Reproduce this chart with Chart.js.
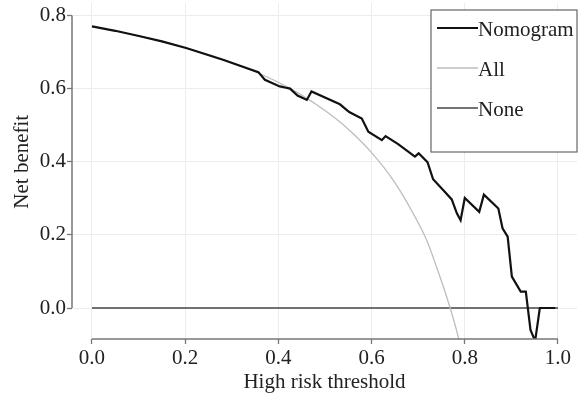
<!DOCTYPE html>
<html>
<head>
<meta charset="utf-8">
<script src="https://cdn.jsdelivr.net/npm/chart.js@4"></script>
<style>
  html, body { margin: 0; padding: 0; background: #fff; }
  #wrap { width: 582px; height: 398px; }
</style>
</head>
<body>
<div id="wrap"><canvas id="dca"></canvas></div>
<script>
// threshold ticks
const xTicks = [0, 0.2, 0.4, 0.6, 0.8, 1.0];
const yTicks = [0, 0.2, 0.4, 0.6, 0.8];

// Nomogram net benefit curve
const nomoX = [0, 0.05, 0.103, 0.15, 0.202, 0.281, 0.357, 0.371, 0.403, 0.414, 0.425, 0.441, 0.461,
  0.471, 0.532, 0.552, 0.579, 0.593, 0.622, 0.630, 0.657, 0.693, 0.701, 0.720, 0.732, 0.754,
  0.772, 0.783, 0.791, 0.800, 0.831, 0.841, 0.872, 0.881, 0.892, 0.901, 0.920, 0.931, 0.941,
  0.951, 0.961, 0.994];
const nomoY = [0.770, 0.758, 0.743, 0.729, 0.711, 0.679, 0.645, 0.624, 0.606, 0.603, 0.600, 0.581, 0.569,
  0.592, 0.557, 0.536, 0.518, 0.482, 0.459, 0.470, 0.448, 0.414, 0.423, 0.399, 0.352, 0.322,
  0.297, 0.259, 0.240, 0.301, 0.263, 0.310, 0.272, 0.218, 0.195, 0.086, 0.045, 0.045, -0.060,
  -0.090, 0.0, 0.0];

// Treat all
const allX = [0, 0.05, 0.1, 0.15, 0.2, 0.25, 0.3, 0.35, 0.4, 0.45, 0.5, 0.55, 0.6, 0.65, 0.7, 0.72, 0.74, 0.76, 0.78, 0.80];
const allY = [0.77, 0.758, 0.744, 0.729, 0.712, 0.693, 0.671, 0.646, 0.617, 0.582, 0.54, 0.489, 0.425, 0.343, 0.233, 0.18, 0.11, 0.035, -0.05, -0.15];

// Treat none
const noneX = [0, 1];
const noneY = [0, 0];

const serif = '"Liberation Serif", "Times New Roman", serif';

function pts(xs, ys) {
  return xs.map((x, i) => ({ x: x, y: ys[i] }));
}

const axesAndLegend = {
  id: 'axesAndLegend',
  afterDraw(chart) {
    const ctx = chart.ctx;
    const xs = chart.scales.x, ys = chart.scales.y;
    const area = chart.chartArea;
    ctx.save();
    // R style axis lines spanning first..last tick
    ctx.strokeStyle = '#777';
    ctx.lineWidth = 1.5;
    ctx.beginPath();
    ctx.moveTo(xs.getPixelForValue(xTicks[0]), area.bottom);
    ctx.lineTo(xs.getPixelForValue(xTicks[xTicks.length - 1]), area.bottom);
    ctx.moveTo(area.left, ys.getPixelForValue(yTicks[0]));
    ctx.lineTo(area.left, ys.getPixelForValue(yTicks[yTicks.length - 1]));
    ctx.stroke();

    // axis titles
    ctx.fillStyle = '#222';
    ctx.font = '21px ' + serif;
    ctx.textAlign = 'center';
    ctx.textBaseline = 'middle';
    ctx.fillText('High risk threshold', (area.left + area.right) / 2, 382);
    ctx.translate(22, (ys.getPixelForValue(0) + ys.getPixelForValue(0.8)) / 2);
    ctx.rotate(-Math.PI / 2);
    ctx.fillText('Net benefit', 0, 0);
    ctx.restore();

    // legend box
    ctx.save();
    const bx = 431, by = 10, bw = 146, bh = 142;
    ctx.fillStyle = '#fff';
    ctx.fillRect(bx, by, bw, bh);
    ctx.strokeStyle = '#666';
    ctx.lineWidth = 1.2;
    ctx.strokeRect(bx, by, bw, bh);
    ctx.font = '21px ' + serif;
    ctx.textAlign = 'left';
    ctx.textBaseline = 'middle';
    chart.data.datasets.forEach((ds, i) => {
      const y = by + 18 + i * 40;
      ctx.strokeStyle = ds.borderColor;
      ctx.lineWidth = ds.borderWidth;
      ctx.beginPath();
      ctx.moveTo(bx + 6, y);
      ctx.lineTo(bx + 47, y);
      ctx.stroke();
      ctx.fillStyle = '#222';
      ctx.fillText(ds.label, bx + 47, y + 2);
    });
    ctx.restore();
  }
};

new Chart(document.getElementById('dca'), {
  type: 'line',
  data: {
    datasets: [
      { label: 'Nomogram', data: pts(nomoX, nomoY), borderColor: '#111', borderWidth: 2.2, pointRadius: 0, tension: 0 },
      { label: 'All', data: pts(allX, allY), borderColor: '#bdbdbd', borderWidth: 1.3, pointRadius: 0, tension: 0.3, cubicInterpolationMode: 'monotone' },
      { label: 'None', data: pts(noneX, noneY), borderColor: '#444', borderWidth: 1.3, pointRadius: 0, tension: 0 }
    ]
  },
  options: {
    responsive: true,
    maintainAspectRatio: false,
    animation: false,
    layout: { padding: { left: 0, right: 5, top: 3, bottom: 0 } },
    plugins: {
      legend: { display: false },
      tooltip: { enabled: false }
    },
    scales: {
      x: {
        type: 'linear',
        min: -0.0429,
        max: 1.0408,
        afterBuildTicks: s => { s.ticks = xTicks.map(v => ({ value: v })); },
        afterFit: s => { s.height = 59; s.paddingLeft = 0; s.paddingRight = 0; },
        border: { display: false },
        grid: { color: '#ececec', lineWidth: 1, tickColor: '#777', tickLength: 5, tickWidth: 1.3 },
        ticks: {
          padding: 2,
          color: '#222',
          font: { family: serif, size: 21 },
          callback: v => Number(v).toFixed(1)
        }
      },
      y: {
        type: 'linear',
        min: -0.0847,
        max: 0.834,
        afterBuildTicks: s => { s.ticks = yTicks.map(v => ({ value: v })); },
        afterFit: s => { s.width = 72; s.paddingTop = 0; s.paddingBottom = 0; },
        border: { display: false },
        grid: { color: '#ececec', lineWidth: 1, tickColor: '#777', tickLength: 5, tickWidth: 1.3 },
        ticks: {
          padding: 1,
          color: '#222',
          font: { family: serif, size: 21 },
          callback: v => Number(v).toFixed(1)
        }
      }
    }
  },
  plugins: [axesAndLegend]
});
</script>
</body>
</html>
